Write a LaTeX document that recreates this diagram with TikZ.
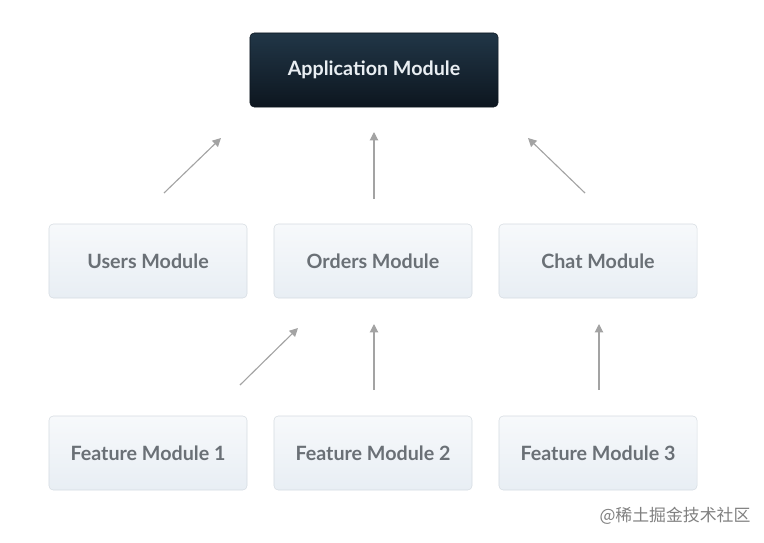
\documentclass[tikz,border=0pt]{standalone}
\usepackage{fontspec}
\setmainfont{Lato}
\newfontfamily\cjk{Noto Sans CJK SC}
\usepackage{xcolor}
\usetikzlibrary{arrows.meta}

\definecolor{apptop}{HTML}{213647}
\definecolor{appbottom}{HTML}{0D161F}
\definecolor{apptext}{HTML}{E9EEF2}
\definecolor{modtop}{HTML}{F7F9FB}
\definecolor{modbottom}{HTML}{E8EEF4}
\definecolor{modline}{HTML}{D6DCE2}
\definecolor{modtext}{HTML}{6A7076}
\definecolor{arrowgray}{HTML}{A3A3A3}

\tikzset{
	appbox/.style={draw=appbottom, rounded corners=3pt, top color=apptop, bottom color=appbottom,
		text=apptext, minimum width=6.2cm, minimum height=1.85cm, font=\bfseries\fontsize{14}{16}\selectfont},
	modbox/.style={draw=modline, rounded corners=3pt, top color=modtop, bottom color=modbottom,
		text=modtext, minimum width=4.95cm, minimum height=1.85cm, font=\bfseries\fontsize{14}{16}\selectfont},
	uparrow/.style={draw=arrowgray, line width=0.8pt, -{Triangle[length=6pt,width=6pt]}}
}

\begin{document}
\begin{tikzpicture}[x=0.025cm,y=-0.025cm]

	\useasboundingbox (0,0) rectangle (764,542);

	% top
	\node [appbox] (app) at (374,70) {Application Module};

	% middle row
	\node [modbox] (users) at (148,261) {Users Module};
	\node [modbox] (orders) at (373,261) {Orders Module};
	\node [modbox] (chat) at (598,261) {Chat Module};

	% bottom row
	\node [modbox] (feat1) at (148,453) {Feature Module 1};
	\node [modbox] (feat2) at (373,453) {Feature Module 2};
	\node [modbox] (feat3) at (598,453) {Feature Module 3};

	% arrow ends
	\coordinate (usersout) at (164,193);
	\coordinate (appinA) at (221,138);
	\coordinate (ordersout) at (374,199);
	\coordinate (appinB) at (374,132);
	\coordinate (chatout) at (585,193);
	\coordinate (appinC) at (528,138);

	\coordinate (featAout) at (240,385);
	\coordinate (ordersinA) at (298,328);
	\coordinate (featBout) at (374,390);
	\coordinate (ordersinB) at (374,324);
	\coordinate (featCout) at (599,390);
	\coordinate (chatin) at (599,324);

	\draw [uparrow] (usersout) -- (appinA);
	\draw [uparrow] (ordersout) -- (appinB);
	\draw [uparrow] (chatout) -- (appinC);

	\draw [uparrow] (featAout) -- (ordersinA);
	\draw [uparrow] (featBout) -- (ordersinB);
	\draw [uparrow] (featCout) -- (chatin);

	% watermark
	\node [text=black!50, font=\cjk\fontsize{12}{14}\selectfont] (mark) at (675,516) {@稀土掘金技术社区};

\end{tikzpicture}
\end{document}
